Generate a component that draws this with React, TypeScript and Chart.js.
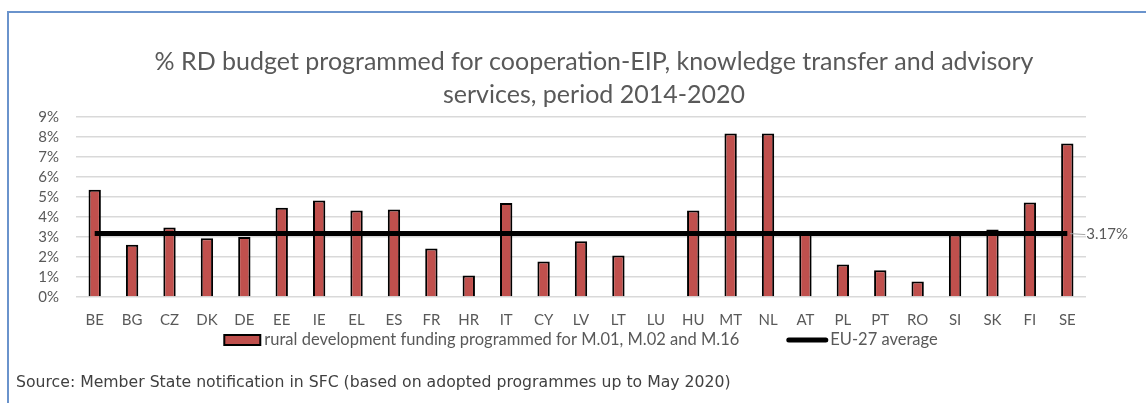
import React, { useEffect, useRef } from "react";
import { Chart, registerables } from "chart.js";

Chart.register(...registerables);

const categories = ["BE", "BG", "CZ", "DK", "DE", "EE", "IE", "EL", "ES", "FR", "HR", "IT", "CY", "LV", "LT", "LU", "HU", "MT", "NL", "AT", "PL", "PT", "RO", "SI", "SK", "FI", "SE"];
const fundingShare = [5.36, 2.61, 3.47, 2.94, 3.0, 4.46, 4.83, 4.33, 4.38, 2.42, 1.08, 4.7, 1.78, 2.79, 2.07, 0, 4.33, 8.18, 8.18, 3.15, 1.63, 1.34, 0.77, 3.12, 3.38, 4.73, 7.68];
const euAverage = 3.17;
const averageSeries = categories.map(() => euAverage);
const yMax = 9;
const titleLines = [
  "% RD budget programmed for cooperation-EIP, knowledge transfer and advisory",
  "services, period 2014-2020",
];
const legendLabels = [
  "rural development funding programmed for M.01, M.02 and M.16",
  "EU-27 average",
];
const sourceNote = "Source: Member State notification in SFC (based on adopted programmes up to May 2020)";

const GREY = "#595959";
const FONT = "Lato";
const BAR_RED = "#C0504D";
const CANVAS_W = 1158;
const CANVAS_H = 403;

const avgLabelPlugin = {
  id: "avgLabel",
  afterDatasetsDraw(chart: any) {
    const meta = chart.getDatasetMeta(1);
    const pt = meta.data[meta.data.length - 1];
    if (!pt) return;
    const ctx = chart.ctx;
    ctx.save();
    ctx.strokeStyle = "#a6a6a6";
    ctx.lineWidth = 1;
    ctx.beginPath();
    ctx.moveTo(pt.x + 3, pt.y);
    ctx.lineTo(pt.x + 18, pt.y + 1);
    ctx.stroke();
    ctx.fillStyle = GREY;
    ctx.font = `15px ${FONT}`;
    ctx.textAlign = "left";
    ctx.textBaseline = "middle";
    ctx.fillText(`${euAverage}%`, pt.x + 19, pt.y + 1);
    ctx.restore();
  },
};

const legendPlugin = {
  id: "customLegend",
  afterDraw(chart: any) {
    const ctx = chart.ctx;
    const area = chart.chartArea;
    const cy = area.bottom + 43;
    ctx.save();
    ctx.font = `16.5px ${FONT}`;
    const w1 = ctx.measureText(legendLabels[0]).width;
    const w2 = ctx.measureText(legendLabels[1]).width;
    const boxW = 36;
    const lineW = 42;
    const total = boxW + 4 + w1 + 47 + lineW + 2 + w2;
    let x = (area.left + area.right) / 2 - total / 2;
    // bar swatch
    ctx.fillStyle = BAR_RED;
    ctx.fillRect(x, cy - 5, boxW, 10);
    ctx.strokeStyle = "#000";
    ctx.lineWidth = 2;
    ctx.strokeRect(x, cy - 5, boxW, 10);
    x += boxW + 4;
    ctx.fillStyle = GREY;
    ctx.textAlign = "left";
    ctx.textBaseline = "middle";
    ctx.fillText(legendLabels[0], x, cy);
    x += w1 + 47;
    // line swatch
    ctx.strokeStyle = "#000";
    ctx.lineWidth = 5;
    ctx.lineCap = "round";
    ctx.beginPath();
    ctx.moveTo(x + 2.5, cy);
    ctx.lineTo(x + lineW - 2.5, cy);
    ctx.stroke();
    x += lineW + 2;
    ctx.fillText(legendLabels[1], x, cy);
    ctx.restore();
  },
};

export default function App() {
  const canvasRef = useRef<HTMLCanvasElement | null>(null);

  useEffect(() => {
    if (!canvasRef.current) return;
    const chart = new Chart(canvasRef.current, {
      type: "bar",
      data: {
        labels: categories,
        datasets: [
          {
            type: "bar",
            label: legendLabels[0],
            data: fundingShare,
            backgroundColor: BAR_RED,
            borderColor: "#000000",
            borderWidth: 2,
            barPercentage: 0.33,
            categoryPercentage: 1,
            order: 2,
          },
          {
            type: "line",
            label: legendLabels[1],
            data: averageSeries,
            borderColor: "#000000",
            borderWidth: 5,
            pointRadius: 0,
            order: 1,
          } as any,
        ],
      },
      options: {
        responsive: false,
        animation: false,
        layout: { padding: { left: 30, right: 0, top: 0, bottom: 60 } },
        plugins: {
          tooltip: { enabled: false },
          legend: { display: false },
          title: {
            display: true,
            text: titleLines,
            color: GREY,
            font: { family: FONT, size: 25, weight: "normal", lineHeight: 1.32 },
            padding: { top: 45, bottom: 6 },
          },
        },
        scales: {
          x: {
            grid: { display: false, drawTicks: false, tickLength: 0 },
            border: { display: false },
            ticks: {
              color: GREY,
              font: { family: FONT, size: 15 },
              padding: 14,
              maxRotation: 0,
              autoSkip: false,
            },
          },
          y: {
            min: 0,
            max: yMax,
            afterFit: (s: any) => {
              s.width = 46;
            },
            grid: { color: "#d9d9d9", lineWidth: 1.5, drawTicks: false, tickLength: 0 },
            border: { display: false },
            ticks: {
              stepSize: 1,
              autoSkip: false,
              color: GREY,
              font: { family: FONT, size: 15 },
              padding: 17,
              callback: (v: any) => `${v}%`,
            },
          },
          yRight: {
            position: "right",
            display: true,
            grid: { display: false },
            border: { display: false },
            ticks: { display: false },
            afterFit: (s: any) => {
              s.width = CANVAS_W - 1086;
            },
          },
        },
      },
      plugins: [avgLabelPlugin, legendPlugin],
    });
    return () => chart.destroy();
  }, []);

  return (
    <div style={{ position: "absolute", left: 0, top: 0, width: 1146, height: 403, background: "#ffffff", overflow: "hidden" }}>
      <div
        style={{
          position: "absolute",
          left: 7,
          top: 11,
          width: 1160,
          height: 420,
          borderLeft: "2px solid #6a93cc",
          borderTop: "2px solid #6a93cc",
        }}
      />
      <canvas ref={canvasRef} width={CANVAS_W} height={CANVAS_H} style={{ position: "absolute", left: 0, top: 0 }} />
      <div
        style={{
          position: "absolute",
          left: 16,
          top: 373,
          fontFamily: "'DejaVu Sans', Verdana, sans-serif",
          fontSize: 15.7,
          color: "#404040",
          whiteSpace: "nowrap",
          lineHeight: "18px",
        }}
      >
        {sourceNote}
      </div>
    </div>
  );
}
